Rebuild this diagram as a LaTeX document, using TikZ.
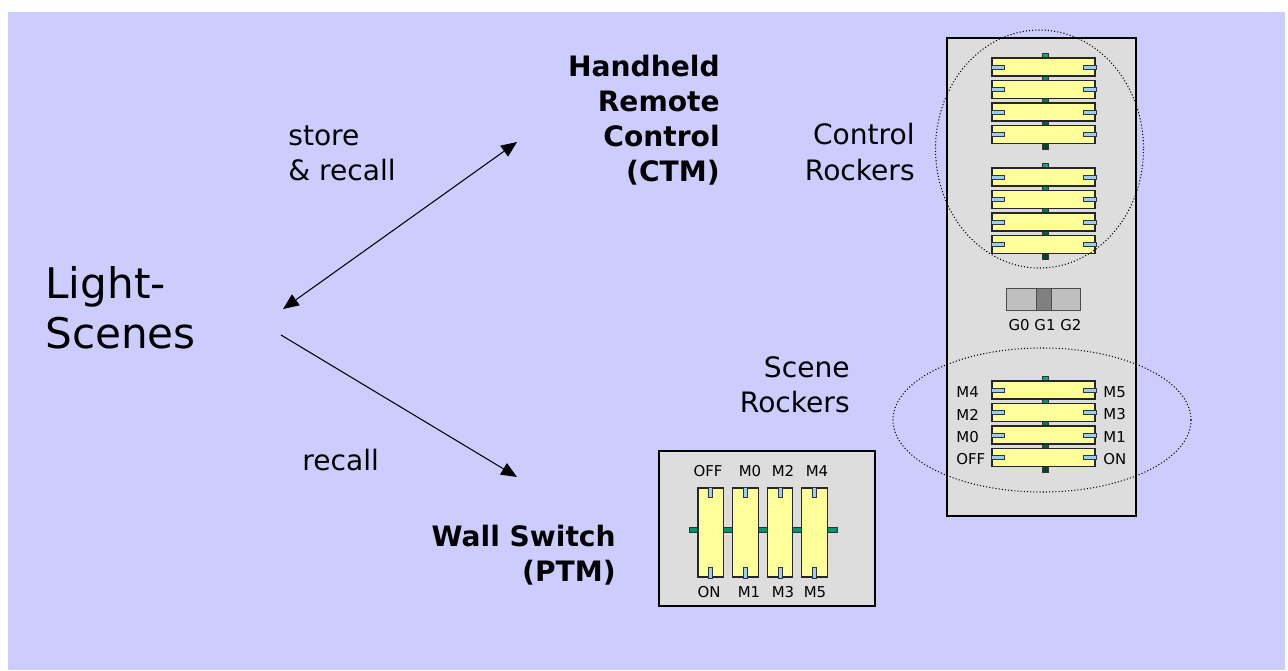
\documentclass[tikz,border=0pt]{standalone}
\usepackage{fontspec}
\setmainfont{DejaVu Sans}
\usetikzlibrary{arrows.meta}
\definecolor{lavender}{RGB}{204,204,255}
\definecolor{panelgray}{RGB}{221,221,221}
\definecolor{rockeryellow}{RGB}{255,255,153}
\definecolor{tabblue}{RGB}{153,204,255}
\definecolor{barlight}{RGB}{0,176,128}
\definecolor{bardark}{RGB}{0,64,48}

\begin{document}
\begin{tikzpicture}[x=0.02cm,y=-0.02cm,
  >={Triangle[length=9pt,width=7.5pt]},
  rocker/.style={draw=black!85,fill=rockeryellow,line width=0.6pt},
  tab/.style={draw=black!80,fill=tabblue,line width=0.4pt},
  axle/.style={draw=black!80,line width=0.4pt,top color=barlight,bottom color=bardark},
  label/.style={inner sep=0pt,font=\fontsize{16}{20}\selectfont},
  bold label/.style={inner sep=0pt,font=\fontsize{16}{20}\selectfont\bfseries},
  small/.style={inner sep=0pt,font=\fontsize{8.5}{10}\selectfont},
  group ring/.style={line width=0.6pt,dash pattern=on 0.6pt off 1.2pt}]
\useasboundingbox (0,0) rectangle (1288,670);
\fill[lavender] (8,12) rectangle (1285,670);

% text
\node[anchor=west,align=left,inner sep=0pt,font=\fontsize{24}{28.5}\selectfont] (scenes) at (45,308) {Light-\\Scenes};
\node[label,anchor=west,align=left] (store) at (288,153) {store\\\& recall};
\node[label,anchor=west] (recall) at (302,460) {recall};
\node[bold label,anchor=east,align=right] (ctm) at (720,120) {Handheld\\Remote\\Control\\(CTM)};
\node[bold label,anchor=east,align=right] (ptm) at (616,555) {Wall Switch\\(PTM)};
\node[label,anchor=east,align=right] (ctrl) at (915,152) {Control\\Rockers};
\node[label,anchor=east,align=right] (scn) at (850,385) {Scene\\Rockers};

% arrows
\coordinate (sceneUp) at (283,309);
\coordinate (ctmEnd) at (517,142);
\coordinate (sceneDown) at (281,335);
\coordinate (ptmEnd) at (517,477);
\draw[<->,line width=0.6pt] (sceneUp) -- (ctmEnd);
\draw[->,line width=0.6pt] (sceneDown) -- (ptmEnd);

% handheld remote
\draw[fill=panelgray,line width=0.6pt] (947,38) rectangle (1136,516);
\draw[axle] (1042.5,53) rectangle (1048.5,149);
\draw[axle] (1042.5,163) rectangle (1048.5,259);
\draw[axle] (1042.5,376) rectangle (1048.5,472);
\foreach \y in {58,80.5,103,125.5,168,190.5,213,235.5,381,403.5,426,448.5}{
  \draw[rocker] (992,\y) rectangle (1095,\y+18);
  \draw[tab] (991,\y+7) rectangle (1004,\y+11);
  \draw[tab] (1083,\y+7) rectangle (1096,\y+11);
}
\foreach \y/\l/\r in {381/M4/M5,403.5/M2/M3,426/M0/M1,448.5/OFF/ON}{
  \node[small,anchor=west] (sl-\l) at (956,\y+11) {\l};
  \node[small,anchor=west] (sr-\r) at (1103,\y+11) {\r};
}
\draw[draw=black!70,fill=black!25] (1006,288) rectangle (1080,310);
\draw[draw=black!70,fill=black!50] (1036,288) rectangle (1051,310);
\node[small] (gsel) at (1045,325) {G0 G1 G2};
\draw[group ring] (1039.5,149) ellipse [x radius=104,y radius=119];
\draw[group ring] (1042,420) ellipse [x radius=149,y radius=72];

% wall switch
\draw[fill=panelgray,line width=0.6pt] (659,451) rectangle (875,606);
\draw[draw=black!80,fill=barlight!85!black,line width=0.4pt] (689,527) rectangle (837,532);
\foreach \x in {698,732.6,767.2,801.8}{
  \draw[rocker] (\x,488) rectangle (\x+25.5,577);
  \draw[tab] (\x+10.75,487) rectangle (\x+14.75,497);
  \draw[tab] (\x+10.75,567) rectangle (\x+14.75,578);
}
\foreach \x/\t in {708/OFF,750/M0,783/M2,817/M4}
  \node[small] (wt-\t) at (\x,471) {\t};
\foreach \x/\t in {709/ON,749/M1,783/M3,815/M5}
  \node[small] (wb-\t) at (\x,592) {\t};
\end{tikzpicture}
\end{document}
